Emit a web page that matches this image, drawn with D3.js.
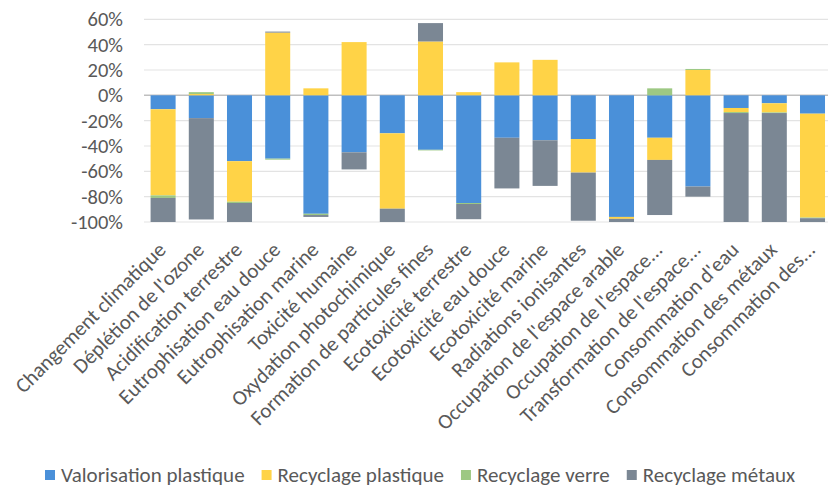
<!DOCTYPE html>
<html>
<head>
<meta charset="utf-8">
<script src="https://cdn.jsdelivr.net/npm/d3@7"></script>
<style>
  html, body { margin: 0; padding: 0; background: #fff; }
  svg { display: block; font-family: Carlito, Lato, "Open Sans", sans-serif; }
</style>
</head>
<body>
<svg id="chart" width="828" height="488"></svg>
<script>
const categories = [
  "Changement climatique", "Déplétion de l'ozone", "Acidification terrestre",
  "Eutrophisation eau douce", "Eutrophisation marine", "Toxicité humaine",
  "Oxydation photochimique", "Formation de particules fines", "Ecotoxicité terrestre",
  "Ecotoxicité eau douce", "Ecotoxicité marine", "Radiations ionisantes",
  "Occupation de l'espace arable", "Occupation de l'espace...", "Transformation de l'espace...",
  "Consommation d'eau", "Consommation des métaux", "Consommation des..."
];
const seriesNames = ["Valorisation plastique", "Recyclage plastique", "Recyclage verre", "Recyclage métaux"];
const valorisationPlastique = [-11, -18, -52, -50, -93.5, -45, -30, -43, -85, -33.5, -35.5, -34.5, -96, -33.5, -72, -10, -6.3, -14.5];
const recyclagePlastique    = [-68, 1, -32, 49.5, 5.5, 42, -59.5, 42.5, 2.5, 26, 28, -26.5, -1.5, -17.5, 20, -3.2, -7.2, -82];
const recyclageVerre        = [-2, 1.5, -1, -0.8, -1, 0, 0, -0.5, -0.8, 0, 0, 0, 0, 5.5, 0.8, -0.8, -0.5, -0.5];
const recyclageMetaux       = [-19, -80, -15, 0.8, -1.5, -13.5, -10.5, 14.5, -12, -40, -36, -38, -2.5, -43.5, -8, -86, -86, -3];
const yTicks = [60, 40, 20, 0, -20, -40, -60, -80, -100];
const colors = ["#4A90D9", "#FFD347", "#9DC883", "#7B8794"];

const allSeries = [valorisationPlastique, recyclagePlastique, recyclageVerre, recyclageMetaux];
const table = categories.map((c, i) => {
  const row = { cat: c };
  seriesNames.forEach((s, k) => row[s] = allSeries[k][i]);
  return row;
});

const svg = d3.select("#chart");
const plotLeft = 144, plotRight = 831.6, plotTop = 19.3, plotBottom = 222;

const x = d3.scaleBand().domain(categories).range([plotLeft, plotRight]).paddingInner(0.345).paddingOuter(0.1725);
const y = d3.scaleLinear().domain([-100, 60]).range([plotBottom, plotTop]);

// gridlines
svg.append("g").selectAll("line").data(yTicks).join("line")
  .attr("x1", plotLeft).attr("x2", 828)
  .attr("y1", d => y(d)).attr("y2", d => y(d))
  .attr("stroke", d => d === 0 ? "#bfbfbf" : "#e3e3e3")
  .attr("stroke-width", d => d === 0 ? 1.5 : 1.2);

// y axis labels
const yAxis = d3.axisLeft(y).tickValues(yTicks).tickFormat(d => d + "%").tickSize(0).tickPadding(0);
const yg = svg.append("g").attr("transform", `translate(123,0)`).call(yAxis);
yg.select(".domain").remove();
yg.selectAll("text").attr("fill", "#595959").style("font-size", "20.5px").style("font-family", "Carlito, Lato, sans-serif");

// stacked bars
const stack = d3.stack().keys(seriesNames).offset(d3.stackOffsetDiverging);
const stacked = stack(table);
svg.append("g").selectAll("g").data(stacked).join("g")
  .attr("fill", (d, i) => colors[i])
  .selectAll("rect").data(d => d).join("rect")
  .attr("x", d => x(d.data.cat))
  .attr("width", x.bandwidth())
  .attr("y", d => y(Math.max(d[0], d[1])))
  .attr("height", d => Math.abs(y(d[0]) - y(d[1])));

// x axis labels
const xAxis = d3.axisBottom(x).tickSize(0).tickPadding(0);
const xg = svg.append("g").call(xAxis);
xg.select(".domain").remove();
xg.selectAll(".tick").attr("transform", d => `translate(${x(d) + x.bandwidth() / 2 + 4},251)`);
xg.selectAll("text")
  .attr("fill", "#595959")
  .attr("y", 0).attr("dy", 0)
  .attr("text-anchor", "end")
  .attr("transform", "rotate(-45)")
  .style("font-size", "21px").style("font-family", "Carlito, Lato, sans-serif");

// legend
const lg = svg.append("g").attr("transform", "translate(0,475)");
let lx = 45;
seriesNames.forEach((s, i) => {
  lg.append("rect").attr("x", lx).attr("y", -5).attr("width", 10).attr("height", 10).attr("fill", colors[i]);
  const t = lg.append("text").attr("x", lx + 16).attr("y", 7).text(s)
    .attr("fill", "#595959").style("font-size", "21px");
  lx += 16 + t.node().getComputedTextLength() + 17;
});
</script>
</body>
</html>
